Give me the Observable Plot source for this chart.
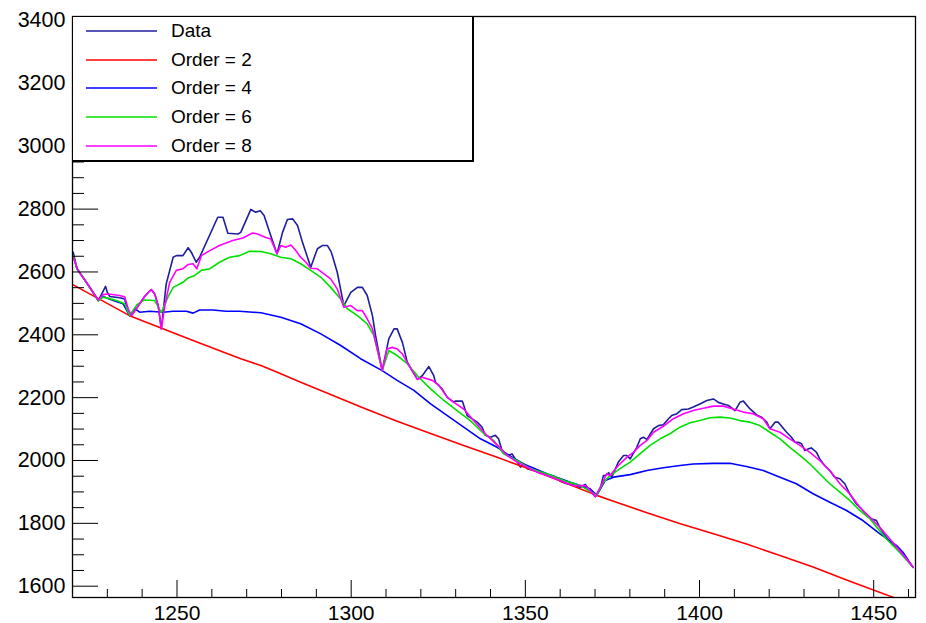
<!DOCTYPE html>
<html>
<head>
<meta charset="utf-8">
<script src="https://cdn.jsdelivr.net/npm/d3@7"></script>
<script src="https://cdn.jsdelivr.net/npm/@observablehq/plot@0.6"></script>
<style>
  body { margin: 0; background: #fff; }
  #wrap { position: relative; width: 926px; height: 623px; }
  .legend {
    position: absolute; left: 72px; top: 16px; width: 399px; height: 143px;
    border: 1px solid #000; box-shadow: 1px 1px 0 #000; background: #fff;
    font-family: "Liberation Sans", Arial, Helvetica, sans-serif; font-size: 19px; color: #000;
  }
  .row { height: 28.6px; display: flex; align-items: center; }
  .sw { margin-left: 13px; width: 71px; height: 4px; display: block; }
  .lab { margin-left: 14px; }
</style>
</head>
<body>
<div id="wrap"></div>
<script>
// Spectrum (channel, counts) and the estimated backgrounds for each clipping-filter order
const spectrum = [
  [1220.2,2663],[1221.3,2610],[1224.0,2567],[1227.4,2509],[1229.5,2554],[1230.0,2535],[1230.7,2522],
  [1233.6,2518],[1235.0,2514],[1235.5,2488],[1236.4,2461],[1236.9,2461],[1238.3,2483],[1240.7,2522],
  [1242.6,2544],[1243.6,2530],[1244.6,2493],[1245.5,2419],[1246.9,2562],[1248.9,2647],[1249.8,2652],
  [1251.7,2652],[1253.2,2677],[1254.1,2663],[1255.5,2631],[1256.5,2647],[1261.7,2774],[1263.2,2774],
  [1264.6,2723],[1267.5,2721],[1268.3,2726],[1271.2,2799],[1272.6,2790],[1273.9,2795],[1275.0,2780],
  [1276.9,2716],[1278.7,2658],[1280.3,2726],[1281.7,2767],[1283.2,2769],[1284.6,2748],[1286.0,2695],
  [1288.4,2615],[1290.3,2674],[1291.7,2684],[1293.2,2684],[1294.3,2663],[1296.0,2599],[1297.9,2493],
  [1299.9,2535],[1301.8,2551],[1303.2,2551],[1304.6,2525],[1306.1,2461],[1307.0,2398],[1308.9,2286],
  [1310.8,2387],[1312.3,2419],[1313.2,2419],[1314.7,2376],[1316.1,2313],[1319.0,2258],[1320.4,2270],
  [1322.3,2299],[1323.7,2270],[1324.2,2249],[1326.1,2228],[1327.6,2201],[1329.5,2185],[1329.9,2189],
  [1331.9,2189],[1332.8,2159],[1333.3,2143],[1336.2,2122],[1337.6,2106],[1338.5,2080],[1340.0,2074],
  [1341.4,2080],[1342.3,2069],[1343.3,2032],[1344.8,2016],[1346.2,2021],[1347.1,2005],[1348.6,1979],
  [1349.5,1990],[1350.5,1974],[1352.4,1968],[1354.3,1963],[1356.2,1952],[1359.1,1942],[1360.0,1934],
  [1361.9,1926],[1362.9,1924],[1364.3,1920],[1365.8,1915],[1367.2,1924],[1368.1,1910],[1370.1,1885],
  [1371.5,1910],[1372.4,1952],[1372.9,1952],[1373.9,1961],[1374.8,1947],[1376.7,1995],[1378.2,2016],
  [1379.1,2016],[1380.1,2005],[1382.0,2042],[1383.0,2069],[1383.9,2074],[1384.9,2067],[1386.8,2101],
  [1388.2,2111],[1389.6,2114],[1391.1,2133],[1392.0,2143],[1393.5,2149],[1394.9,2162],[1396.8,2164],
  [1398.2,2170],[1400.1,2180],[1402.1,2191],[1404.0,2196],[1405.4,2185],[1406.8,2180],[1408.3,2175],
  [1410.2,2159],[1411.6,2185],[1412.6,2189],[1414.5,2164],[1416.4,2145],[1417.8,2138],[1419.3,2122],
  [1420.2,2101],[1421.7,2122],[1422.6,2122],[1425.0,2090],[1426.4,2074],[1427.4,2058],[1428.3,2058],
  [1429.3,2053],[1430.2,2032],[1431.2,2037],[1432.1,2040],[1433.6,2026],[1434.5,2005],[1435.9,1984],
  [1437.4,1968],[1438.8,1947],[1440.3,1942],[1441.7,1926],[1443.1,1894],[1445.0,1862],[1446.5,1846],
  [1447.9,1825],[1449.3,1815],[1450.8,1809],[1451.7,1788],[1453.2,1761],[1455.1,1735],[1456.5,1724],
  [1457.4,1719],[1458.4,1700],[1461.3,1660]
];

const order2 = [
  [1220.2,2559],[1236.4,2461],[1254.6,2382],[1268.3,2324],[1274.1,2302],[1279.8,2276],[1285.5,2249],
  [1291.3,2223],[1303.7,2166],[1313.2,2125],[1322.8,2086],[1332.3,2048],[1341.9,2010],[1351.4,1972],
  [1361.0,1931],[1370.5,1889],[1375.3,1870],[1384.9,1834],[1394.5,1799],[1404.0,1767],[1413.5,1734],
  [1423.1,1698],[1432.6,1661],[1442.2,1620],[1455.5,1565],[1461.7,1540]
];

const order4 = [
  [1220.2,2652],[1221.3,2610],[1224.0,2567],[1227.4,2509],[1228.8,2522],[1231.7,2509],[1234.5,2499],
  [1236.4,2461],[1237.9,2483],[1239.3,2472],[1242.2,2475],[1246.0,2472],[1248.9,2475],[1252.7,2475],
  [1254.6,2469],[1256.5,2479],[1260.3,2479],[1264.1,2475],[1268.0,2475],[1271.8,2472],[1274.1,2470],
  [1279.8,2456],[1285.5,2435],[1291.3,2403],[1297.0,2366],[1302.7,2324],[1308.9,2286],[1313.2,2255],
  [1318.0,2223],[1322.8,2180],[1327.6,2143],[1332.3,2106],[1337.1,2069],[1341.9,2042],[1344.7,2021],
  [1349.5,1989],[1356.2,1958],[1362.9,1931],[1368.6,1910],[1370.5,1889],[1372.9,1936],[1375.3,1947],
  [1380.1,1955],[1384.9,1968],[1389.6,1977],[1394.4,1984],[1398.2,1989],[1403.9,1991],[1408.7,1991],
  [1413.5,1981],[1418.3,1968],[1423.1,1947],[1427.8,1926],[1432.6,1894],[1437.4,1867],[1442.2,1841],
  [1446.9,1809],[1451.7,1767],[1456.5,1730],[1458.4,1708],[1461.3,1660]
];

const order6 = [
  [1220.2,2652],[1221.3,2610],[1224.0,2567],[1227.4,2509],[1228.8,2520],[1232.6,2509],[1235.0,2499],
  [1236.4,2461],[1238.5,2496],[1240.7,2511],[1243.6,2509],[1245.5,2471],[1247.4,2520],[1248.9,2551],
  [1251.7,2567],[1253.2,2581],[1255.1,2589],[1257.0,2605],[1259.4,2610],[1262.2,2631],[1265.1,2647],
  [1268.0,2652],[1270.8,2666],[1274.1,2665],[1276.9,2658],[1279.8,2647],[1282.7,2642],[1285.5,2626],
  [1288.4,2605],[1291.3,2583],[1294.1,2551],[1297.0,2514],[1298.9,2483],[1301.8,2461],[1304.6,2435],
  [1306.5,2398],[1308.9,2286],[1310.8,2350],[1313.2,2334],[1316.1,2308],[1319.4,2265],[1322.8,2228],
  [1326.6,2191],[1330.4,2159],[1334.2,2127],[1338.1,2085],[1340.9,2064],[1343.8,2021],[1347.6,2000],
  [1351.4,1974],[1356.2,1958],[1361.0,1936],[1365.8,1920],[1370.5,1889],[1372.4,1931],[1374.3,1952],
  [1377.2,1974],[1380.1,1995],[1382.9,2021],[1385.8,2048],[1388.7,2069],[1391.5,2085],[1394.4,2106],
  [1397.3,2120],[1400.1,2127],[1403.0,2136],[1405.9,2138],[1408.7,2135],[1411.6,2127],[1414.5,2122],
  [1417.3,2111],[1420.2,2090],[1423.1,2069],[1425.9,2042],[1428.8,2016],[1431.7,1989],[1434.5,1958],
  [1437.4,1926],[1440.3,1899],[1443.1,1873],[1446.0,1841],[1448.9,1815],[1453.6,1751],[1457.4,1708],
  [1461.3,1660]
];

const order8 = [
  [1220.2,2647],[1221.6,2605],[1224.0,2567],[1227.4,2511],[1228.8,2528],[1230.2,2530],[1233.6,2525],
  [1235.0,2520],[1236.0,2483],[1236.9,2461],[1238.3,2483],[1240.7,2522],[1242.6,2544],[1243.6,2530],
  [1244.6,2493],[1245.5,2419],[1246.5,2493],[1247.9,2567],[1249.8,2605],[1251.7,2610],[1253.2,2624],
  [1254.6,2626],[1255.7,2610],[1257.0,2652],[1259.4,2668],[1262.2,2684],[1266.0,2700],[1268.9,2708],
  [1271.7,2724],[1273.1,2721],[1275.5,2710],[1276.9,2705],[1277.9,2679],[1278.7,2658],[1279.8,2684],
  [1281.2,2679],[1282.7,2686],[1284.1,2668],[1285.5,2647],[1287.0,2631],[1288.4,2612],[1290.3,2610],
  [1292.2,2594],[1294.1,2578],[1296.0,2546],[1297.9,2488],[1299.9,2493],[1301.8,2477],[1303.2,2477],
  [1304.6,2451],[1306.1,2419],[1307.5,2355],[1308.9,2286],[1310.3,2355],[1311.8,2360],[1313.2,2355],
  [1314.7,2339],[1316.6,2302],[1319.0,2258],[1320.4,2265],[1323.3,2255],[1325.2,2239],[1327.6,2201],
  [1329.5,2185],[1332.3,2164],[1334.7,2133],[1338.1,2090],[1340.5,2064],[1342.8,2040],[1344.8,2016],
  [1347.6,1995],[1350.5,1979],[1353.4,1963],[1356.2,1952],[1360.0,1936],[1363.8,1920],[1367.2,1920],
  [1368.6,1905],[1370.1,1885],[1372.0,1926],[1373.4,1958],[1374.3,1952],[1376.7,1984],[1379.1,2010],
  [1381.0,2026],[1383.0,2048],[1384.9,2064],[1386.8,2090],[1389.6,2109],[1392.5,2133],[1395.4,2149],
  [1398.2,2159],[1401.1,2166],[1404.0,2173],[1406.8,2173],[1409.7,2164],[1412.6,2154],[1415.4,2149],
  [1418.3,2133],[1420.2,2101],[1423.1,2090],[1425.9,2069],[1428.8,2048],[1431.7,2026],[1434.5,2000],
  [1437.4,1968],[1440.3,1926],[1443.1,1894],[1446.0,1851],[1448.9,1820],[1451.7,1788],[1454.6,1751],
  [1457.4,1714],[1459.4,1687],[1461.3,1660]
];

// Series drawn in this order (last one ends up on top)
const seriesNames = ["Data", "Order = 2", "Order = 4", "Order = 6", "Order = 8"];
const seriesData = [spectrum, order2, order4, order6, order8];
const seriesColors = ["#1e1e9e", "#ff0000", "#0000ff", "#00e000", "#ff00ff"];

// Axis ticks
const yMajor = [1600, 1800, 2000, 2200, 2400, 2600, 2800, 3000, 3200, 3400];
const yMinor = d3.range(1600, 3401, 50).filter(v => v % 200 !== 0);
const xMajor = [1250, 1300, 1350, 1400, 1450];
const xMinor = d3.range(1230, 1461, 10).filter(v => v % 50 !== 0);

const W = 926, H = 623;
const mL = 72, mT = 16, mR = 11, mB = 26;
const innerW = W - mL - mR, innerH = H - mT - mB;

const lines = seriesData.map((s, i) =>
  Plot.line(s, {x: d => d[0], y: d => d[1], stroke: seriesColors[i], strokeWidth: 1.6, clip: true})
);

const chart = Plot.plot({
  width: W, height: H,
  marginLeft: mL, marginTop: mT, marginRight: mR, marginBottom: mB,
  x: {domain: [1220, 1462]},
  y: {domain: [1564, 3413]},
  style: {fontFamily: "'Liberation Sans', Arial, Helvetica, sans-serif", fontSize: "21.5px", color: "#000", background: "#fff"},
  marks: [
    ...lines,
    // inward-pointing ticks along the left and bottom edges of the frame
    Plot.tickY(yMajor, {y: d => d, stroke: "#000", strokeWidth: 1, insetRight: innerW - 26}),
    Plot.tickY(yMinor, {y: d => d, stroke: "#000", strokeWidth: 1, insetRight: innerW - 12}),
    Plot.tickX(xMajor, {x: d => d, stroke: "#000", strokeWidth: 1, insetTop: innerH - 17}),
    Plot.tickX(xMinor, {x: d => d, stroke: "#000", strokeWidth: 1, insetTop: innerH - 8}),
    Plot.axisY({ticks: yMajor, tickSize: 0, tickPadding: 7, tickFormat: d => String(d), label: null, fontSize: 21.5}),
    Plot.axisX({ticks: xMajor, tickSize: 0, tickPadding: 8, tickFormat: d => String(d), label: null, fontSize: 21}),
    Plot.frame({stroke: "#000", strokeWidth: 1.3})
  ]
});

const wrap = document.getElementById("wrap");
wrap.appendChild(chart);

// Legend box in the upper-left corner of the frame
const legend = d3.select(wrap).append("div").attr("class", "legend");
seriesNames.forEach((name, i) => {
  const row = legend.append("div").attr("class", "row");
  row.append("svg").attr("class", "sw").attr("width", 71).attr("height", 4)
    .append("line")
      .attr("x1", 0).attr("x2", 71).attr("y1", 2).attr("y2", 2)
      .attr("stroke", seriesColors[i]).attr("stroke-width", 1.6);
  row.append("span").attr("class", "lab").text(name);
});
</script>
</body>
</html>
